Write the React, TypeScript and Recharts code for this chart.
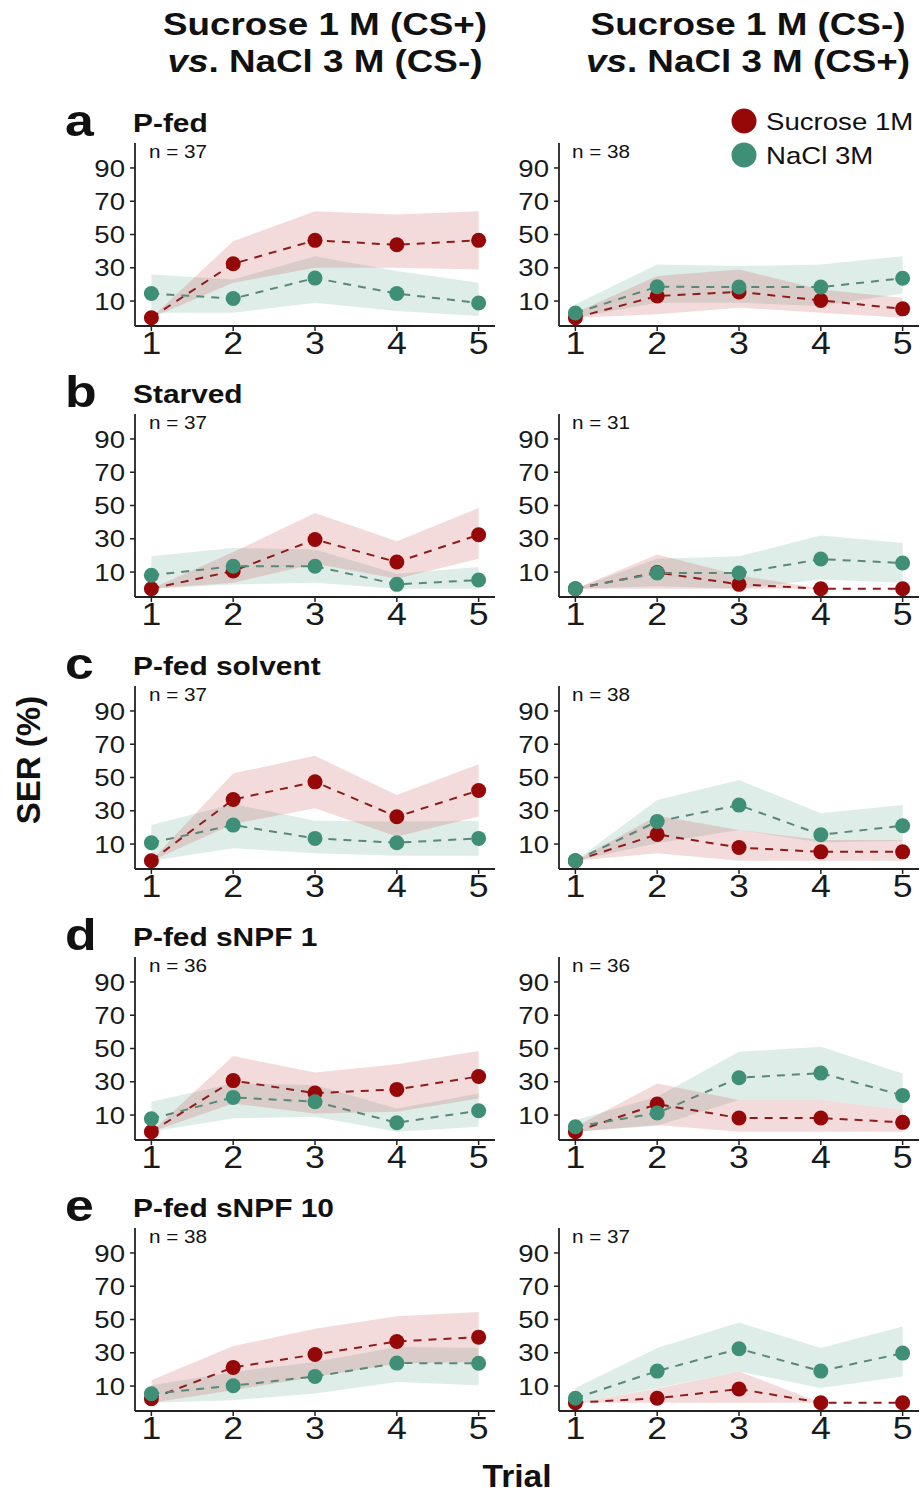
import React from "react";
import { ComposedChart, Area, Line, XAxis, YAxis } from "recharts";

// panel order: a-left, a-right, b-left, b-right, ... e-right
const trials = [1, 2, 3, 4, 5];
const rowLetters = ["a", "b", "c", "d", "e"];
const rowTitles = ["P-fed", "Starved", "P-fed solvent", "P-fed sNPF 1", "P-fed sNPF 10"];
const panelN = [37, 38, 37, 31, 37, 38, 36, 36, 38, 37];
const yTicks = [10, 30, 50, 70, 90];

const sucroseMean = [
  [0, 32.4, 46.5, 43.8, 46.5],
  [0, 13, 15.5, 10.4, 5.3],
  [0, 10.6, 29.6, 16, 32.4],
  [0, 9.7, 2.6, 0, 0],
  [0, 36.8, 47.4, 26.4, 42.2],
  [0, 15.8, 7.9, 5.3, 5.3],
  [0, 30.7, 23.2, 25.4, 33.2],
  [0, 16.6, 8.2, 8.2, 5.6],
  [2.4, 21.2, 29, 36.8, 39.4],
  [0, 2.7, 8.2, 0, 0],
];
const sucroseLow = [
  [0, 21, 30, 30, 29],
  [0, 2, 6, 3, 0],
  [0, 3.5, 15, 6, 18],
  [0, 0, 0, 0, 0],
  [0, 22, 31.5, 14.5, 26.5],
  [0, 4.5, 0, 0, 0],
  [0, 17, 11, 12, 20],
  [0, 4, 0, 0, 0],
  [0, 7.5, 15.5, 23.5, 24.5],
  [0, 0, 0, 0, 0],
];
const sucroseHigh = [
  [0, 46, 64, 62, 64],
  [3, 25, 29, 17, 12],
  [0, 22, 45.5, 28.5, 48.5],
  [0, 20.5, 8, 0, 0],
  [0, 52.5, 63, 39.5, 58],
  [0, 27, 18.5, 12.5, 12.5],
  [0, 45.5, 35.5, 40.5, 48.5],
  [3, 29, 19, 19, 13],
  [13.5, 34, 44.5, 52, 54.5],
  [0, 8.5, 18.8, 0, 0],
];
const naclMean = [
  [14.5, 11.5, 23.8, 14.5, 8.8],
  [2.8, 18.6, 18.4, 18.4, 23.7],
  [8.1, 13.5, 13.5, 2.6, 5.2],
  [0, 9.4, 9.4, 17.8, 15.4],
  [10.8, 21.4, 13.4, 10.8, 13.4],
  [0, 23.6, 33.4, 15.6, 21],
  [7.8, 20.6, 18, 5.4, 12.6],
  [3, 11.2, 32.4, 35.2, 21.8],
  [5.4, 10.2, 15.8, 23.8, 23.7],
  [2.7, 19, 32.4, 19, 29.8],
];
const naclLow = [
  [3, 3, 9, 4, 1],
  [0, 9, 9, 7, 14.5],
  [0, 2.5, 3.5, 0, 0],
  [0, 1.5, 0, 5.5, 3.5],
  [0, 7.5, 4.5, 3, 3],
  [0, 10.5, 18.5, 11, 12],
  [0, 8, 9, 0, 3],
  [0, 3.5, 19, 19, 13],
  [0, 1.5, 5.5, 12.5, 10.5],
  [0, 8.8, 18.8, 8.8, 15.8],
];
const naclHigh = [
  [26, 23, 37, 28, 21],
  [8, 32, 31, 32, 37],
  [19.5, 24.5, 23.5, 9, 13],
  [0, 18, 19.5, 32, 27.5],
  [21.5, 34, 24, 23.5, 24],
  [0, 36.5, 48.5, 28.5, 33.5],
  [18, 29, 28, 14, 23],
  [7, 21, 48, 51, 35],
  [10.5, 18.5, 24.5, 33.5, 33],
  [8.8, 32.8, 48.2, 32.8, 45.8],
];

const RED = "#960808";
const RED_LINE = "#8E1B1B";
const GREEN = "#3F8F77";
const GREEN_LINE = "#5A8878";
const FONT = "'Liberation Sans', Arial, sans-serif";
const SX = 1.15;

const ROW_Y0 = [318, 589, 861, 1132, 1403]; // pixel of value 0 per row
const PLOT_LEFT = [135, 559];
const AXIS_W = 75;

function YTick(props: any) {
  const { x, y, payload } = props;
  return (
    <text
      transform={`translate(${x},${y}) scale(${SX},1)`}
      textAnchor="end"
      dy="0.36em"
      fontSize={24}
      fontFamily={FONT}
      fill="#1a1a1a"
    >
      {payload.value}
    </text>
  );
}

function XTick(props: any) {
  const { x, y, payload } = props;
  return (
    <text
      transform={`translate(${x},${y}) scale(${SX},1)`}
      textAnchor="middle"
      dy="0.72em"
      fontSize={31}
      fontFamily={FONT}
      fill="#1a1a1a"
    >
      {payload.value}
    </text>
  );
}

function Panel({ p }: { p: number }) {
  const row = Math.floor(p / 2);
  const col = p % 2;
  const data = trials.map((t, j) => ({
    trial: t,
    suc: sucroseMean[p][j],
    nacl: naclMean[p][j],
    sucBand: [sucroseLow[p][j], sucroseHigh[p][j]],
    naclBand: [naclLow[p][j], naclHigh[p][j]],
  }));
  return (
    <div
      style={{
        position: "absolute",
        left: PLOT_LEFT[col] - AXIS_W,
        top: ROW_Y0[row] - 180,
      }}
    >
      <ComposedChart
        width={436}
        height={233}
        data={data}
        margin={{ top: 5, right: 1, bottom: 0, left: 0 }}
      >
        <XAxis
          dataKey="trial"
          type="number"
          domain={[0.8, 5.2]}
          ticks={trials}
          allowDataOverflow
          height={45}
          tickSize={5}
          tickMargin={1}
          axisLine={{ stroke: "#222", strokeWidth: 1.8 }}
          tickLine={{ stroke: "#222", strokeWidth: 1.5 }}
          tick={<XTick />}
        />
        <YAxis
          type="number"
          domain={[-5, 105]}
          ticks={yTicks}
          allowDataOverflow
          width={AXIS_W}
          tickSize={5}
          tickMargin={5}
          axisLine={{ stroke: "#222", strokeWidth: 1.8 }}
          tickLine={{ stroke: "#222", strokeWidth: 1.5 }}
          tick={<YTick />}
        />
        <Area
          dataKey="naclBand"
          type="linear"
          stroke="none"
          fill="#4A9A80"
          fillOpacity={0.18}
          dot={false}
          activeDot={false}
          isAnimationActive={false}
        />
        <Area
          dataKey="sucBand"
          type="linear"
          stroke="none"
          fill="#C84B4B"
          fillOpacity={0.2}
          dot={false}
          activeDot={false}
          isAnimationActive={false}
        />
        <Line
          dataKey="suc"
          type="linear"
          stroke={RED_LINE}
          strokeWidth={2}
          strokeDasharray="8 7"
          dot={{ r: 7.5, fill: RED, stroke: RED, strokeWidth: 0 }}
          activeDot={false}
          isAnimationActive={false}
        />
        <Line
          dataKey="nacl"
          type="linear"
          stroke={GREEN_LINE}
          strokeWidth={2}
          strokeDasharray="8 7"
          dot={{ r: 7.5, fill: GREEN, stroke: GREEN, strokeWidth: 0 }}
          activeDot={false}
          isAnimationActive={false}
        />
      </ComposedChart>
    </div>
  );
}

function T({ x, y, size, bold, anchor, italicPrefix, children, sx = SX }: any) {
  return (
    <text
      transform={`translate(${x},${y}) scale(${sx},1)`}
      textAnchor={anchor || "start"}
      fontSize={size}
      fontWeight={bold ? "bold" : "normal"}
      fontFamily={FONT}
      fill="#111"
    >
      {italicPrefix ? <tspan fontStyle="italic">{italicPrefix}</tspan> : null}
      {children}
    </text>
  );
}

export default function App() {
  return (
    <div
      style={{
        position: "absolute",
        left: 0,
        top: 0,
        width: 920,
        height: 1496,
        background: "#fff",
        overflow: "hidden",
      }}
    >
      {panelN.map((_, p) => (
        <Panel key={p} p={p} />
      ))}
      <svg
        width={920}
        height={1496}
        style={{ position: "absolute", left: 0, top: 0, pointerEvents: "none" }}
      >
        <T x={325} y={35} size={32} bold anchor="middle">Sucrose 1 M (CS+)</T>
        <T x={325} y={72} size={32} bold anchor="middle" italicPrefix="vs">. NaCl 3 M (CS-)</T>
        <T x={748} y={35} size={32} bold anchor="middle">Sucrose 1 M (CS-)</T>
        <T x={748} y={72} size={32} bold anchor="middle" italicPrefix="vs">. NaCl 3 M (CS+)</T>

        {rowLetters.map((l, i) => (
          <T key={l} x={65} y={ROW_Y0[i] - 182} size={45} bold>{l}</T>
        ))}
        {rowTitles.map((t, i) => (
          <T key={t} x={133} y={ROW_Y0[i] - 186} size={26} bold>{t}</T>
        ))}
        {panelN.map((n, p) => (
          <T
            key={p}
            x={p % 2 === 0 ? 149 : 572}
            y={ROW_Y0[Math.floor(p / 2)] - 160}
            size={18}
          >
            {`n = ${n}`}
          </T>
        ))}

        <circle cx={744} cy={121} r={12.5} fill={RED} />
        <circle cx={744} cy={155} r={12.5} fill={GREEN} />
        <T x={766} y={130} size={24}>Sucrose 1M</T>
        <T x={766} y={164} size={24}>NaCl 3M</T>

        <g transform="translate(40,760) rotate(-90)">
          <text
            textAnchor="middle"
            fontSize={33}
            fontWeight="bold"
            fontFamily={FONT}
            fill="#111"
          >
            SER (%)
          </text>
        </g>
        <T x={517} y={1487} size={32} bold anchor="middle" sx={1.05}>Trial</T>
      </svg>
    </div>
  );
}
